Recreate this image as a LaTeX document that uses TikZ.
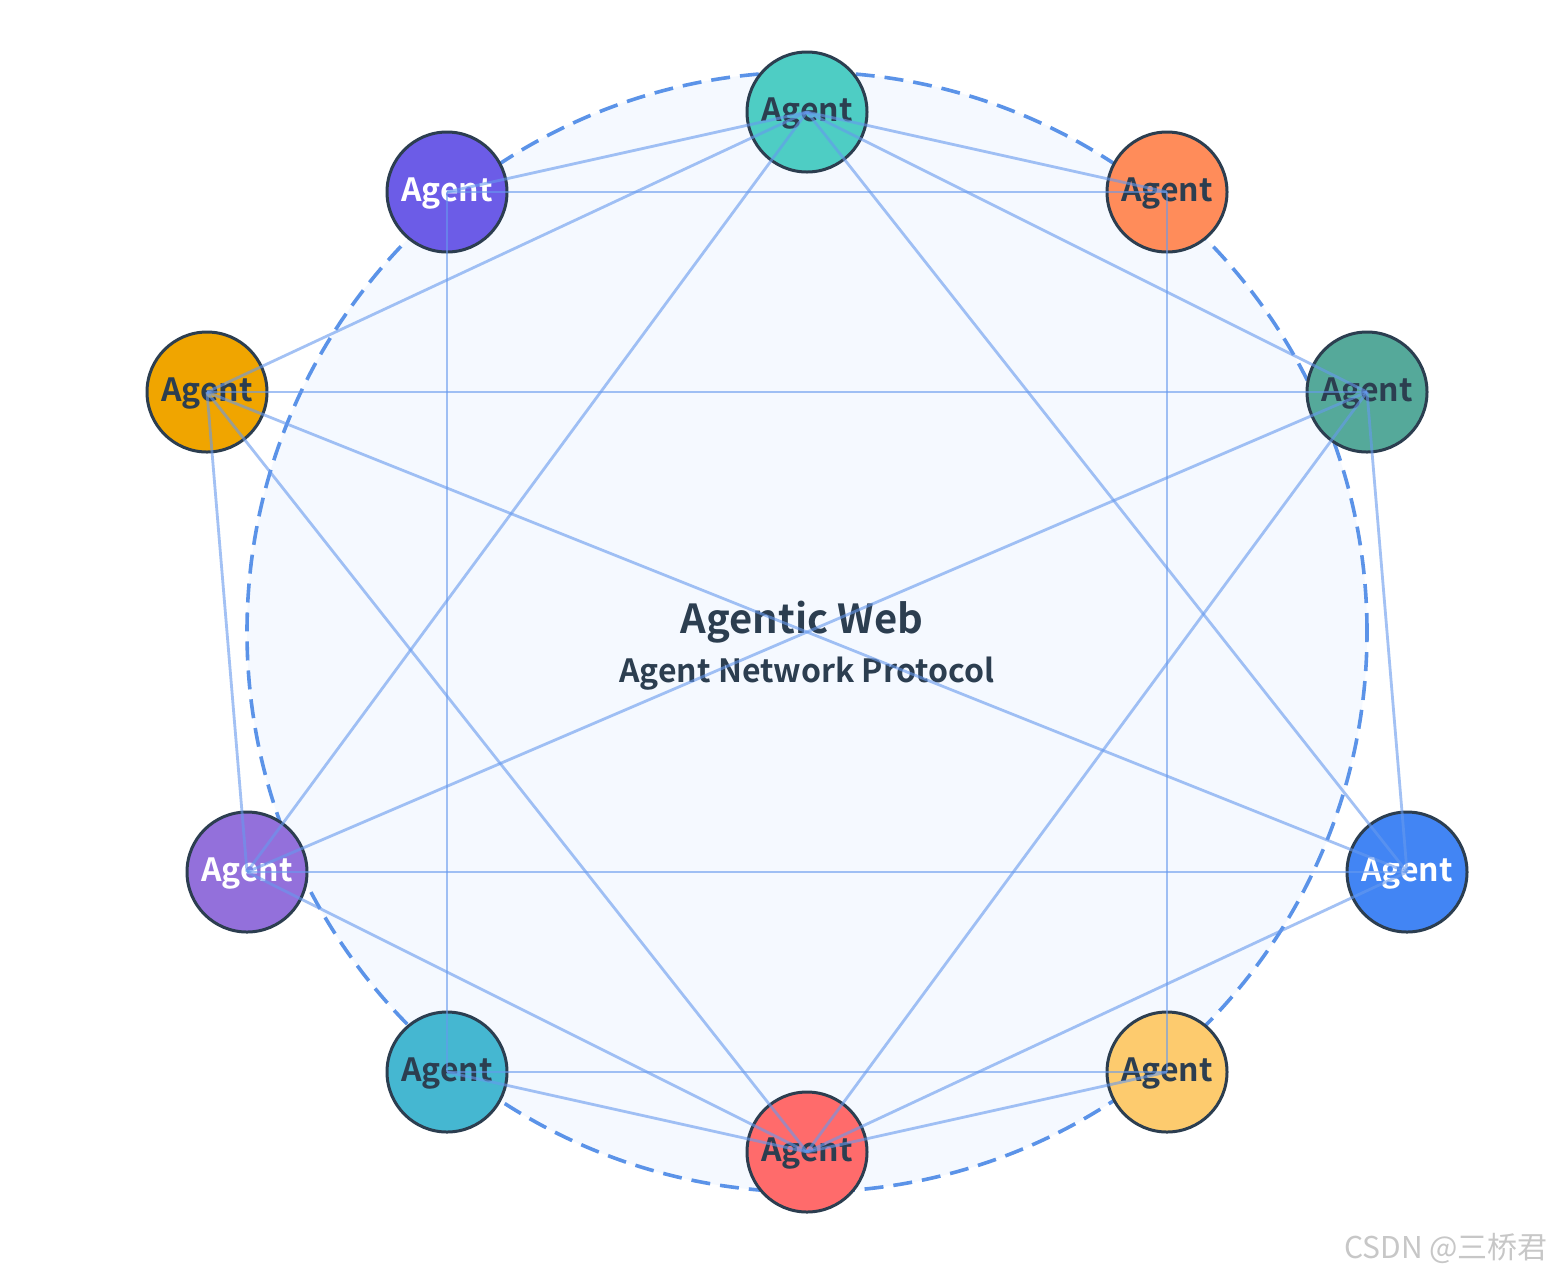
\documentclass[tikz,border=0pt]{standalone}
\usepackage{fontspec}
\setmainfont{Noto Sans CJK SC}[BoldFont={Noto Sans CJK SC Bold}]
\newfontfamily\wmfont{Noto Sans CJK SC}
\definecolor{ink}{HTML}{2C3E50}
\definecolor{linkc}{HTML}{6699EE}
\definecolor{ringc}{HTML}{5B93E8}
\definecolor{ringfill}{HTML}{F5F9FF}
\definecolor{cTeal}{HTML}{4ECDC4}
\definecolor{cOrange}{HTML}{FF8C5A}
\definecolor{cGreen}{HTML}{55A99A}
\definecolor{cBlue}{HTML}{4285F4}
\definecolor{cYellow}{HTML}{FDCB6E}
\definecolor{cRed}{HTML}{FF6B6B}
\definecolor{cCyan}{HTML}{45B7D1}
\definecolor{cPurple}{HTML}{9370DB}
\definecolor{cAmber}{HTML}{F0A500}
\definecolor{cIndigo}{HTML}{6C5CE7}
\begin{document}
\begin{tikzpicture}[x=0.5pt,y=-0.5pt,
  agent/.style={circle,draw=ink,line width=1.5pt,minimum size=60pt,inner sep=0pt},
  agenttext/.style={font=\bfseries\fontsize{16}{19}\selectfont,inner sep=0pt},
  link/.style={draw=linkc,line width=1.4pt,opacity=0.6},
  ring/.style={draw=ringc,line width=1.8pt,dash pattern=on 9.5pt off 5pt,fill=ringfill}]
\useasboundingbox (0,0) rectangle (1558,1276);
\fill[white] (0,0) rectangle (1558,1276);
\node[ring,circle,minimum size=560pt,inner sep=0pt] (ring) at (807,632) {};
\node[font=\bfseries\fontsize{20}{24}\selectfont,text=ink] (title) at (802,622) {Agentic Web};
\node[font=\bfseries\fontsize{16}{19}\selectfont,text=ink] (subtitle) at (807,674) {Agent Network Protocol};
\foreach \n/\x/\y/\c/\t in {T/807/112/cTeal/ink,UR/1167/192/cOrange/ink,R/1367/392/cGreen/ink,
    LR/1407/872/cBlue/white,BR/1167/1072/cYellow/ink,B/807/1152/cRed/ink,BL/447/1072/cCyan/ink,
    LL/247/872/cPurple/white,L/207/392/cAmber/ink,UL/447/192/cIndigo/white}{
  \node[agent,fill=\c] (\n) at (\x,\y) {};
  \node[agenttext,text=\t] (\n-label) at (\x,\y+2) {Agent};
}
\foreach \a/\b in {T/UL,T/L,T/LL,T/UR,T/R,T/LR,UL/UR,UL/BL,UR/BR,L/R,L/LR,L/B,L/LL,R/LL,R/B,R/LR,LL/LR,LL/B,LR/B,BL/BR,BL/B,BR/B}
  \draw[link] (\a.center) -- (\b.center);
\node[anchor=east,font=\wmfont\fontsize{15}{17}\selectfont,text=black!22] (wm) at (1555,1248) {CSDN @三桥君};
\end{tikzpicture}
\end{document}
